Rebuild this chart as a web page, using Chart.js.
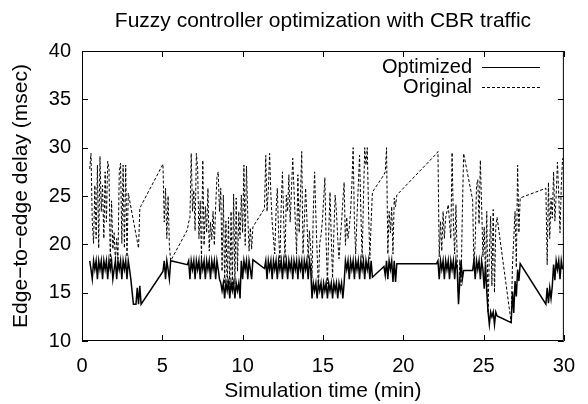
<!DOCTYPE html>
<html lang="en">
<head>
<meta charset="utf-8">
<title>Fuzzy controller optimization with CBR traffic</title>
<script src="https://cdn.jsdelivr.net/npm/chart.js@4.4.1/dist/chart.umd.min.js"></script>
<style>
body{margin:0;background:#fff;}
canvas{display:block;}
</style>
</head>
<body>
<canvas id="grafico" width="588" height="404"></canvas>
<script>

// ==============================
// DATOS
// ==============================

// tiempo de simulacion (min)
const tiempos = [
// tramo A
0.48,0.56,0.64,0.72,0.80,0.88,0.96,1.04,1.12,1.20,
1.28,1.36,1.44,1.52,1.60,1.68,1.76,1.84,1.92,2.00,
2.08,2.16,2.24,2.32,2.40,2.48,2.56,2.64,2.72,2.80,
2.88,2.96,3.04,3.12,3.20,3.28,3.36,3.44,3.52,3.60,
3.68,
// tramo B
5.04,5.12,5.20,5.28,5.36,5.44,5.52,
// tramo C
6.56,6.64,6.72,6.80,6.88,6.96,7.04,7.12,7.20,7.28,
7.36,7.44,7.52,7.60,7.68,7.76,7.84,7.92,8.00,8.08,
8.16,8.24,8.32,8.40,8.48,8.56,8.64,8.72,8.80,8.88,
8.96,9.04,9.12,9.20,9.28,9.36,9.44,9.52,9.60,9.68,
9.76,9.84,9.92,10.00,10.08,10.16,10.24,10.32,10.40,10.48,
10.56,10.64,
// tramo D
11.36,11.44,11.52,11.60,11.68,11.76,11.84,11.92,12.00,12.08,
12.16,12.24,12.32,12.40,12.48,12.56,12.64,12.72,12.80,12.88,
12.96,13.04,13.12,13.20,13.28,13.36,13.44,13.52,13.60,13.68,
13.76,13.84,13.92,14.00,14.08,14.16,14.24,14.32,14.40,14.48,
14.56,14.64,14.72,14.80,14.88,14.96,15.04,15.12,15.20,15.28,
15.36,15.44,15.52,15.60,15.68,15.76,15.84,15.92,16.00,16.08,
16.16,16.24,16.32,16.40,16.48,16.56,16.64,16.72,16.80,16.88,
16.96,17.04,17.12,17.20,17.28,17.36,17.44,17.52,17.60,17.68,
17.76,17.84,17.92,18.00,18.08,
// tramo E
18.80,18.88,18.96,19.04,19.12,19.20,19.28,19.36,19.44,19.52,19.60,
// tramo F
22.08,22.16,22.24,22.32,22.40,22.48,22.56,22.64,22.72,22.80,
22.88,22.96,23.04,23.12,23.20,23.28,23.36,23.44,23.52,23.60,
23.68,23.76,
// tramo G
24.32,24.40,24.48,24.56,24.64,24.72,24.80,24.88,24.96,25.04,
25.12,25.20,25.28,25.36,25.44,25.52,25.60,25.68,25.76,25.84,
// tramo H
26.72,26.80,26.88,26.96,27.04,27.12,27.20,27.28,
// tramo I
28.88,28.96,29.04,29.12,29.20,29.28,29.36,29.44,29.52,29.60,
29.68,29.76,29.84,29.92
];

// retardo Optimized (msec)
const optimizado = [
// A
18.3,17.4,16.4,18.3,17.4,18.3,16.4,18.3,17.4,18.3,
16.4,18.3,17.4,18.3,16.4,18.3,17.4,18.3,16.4,17.4,
18.3,16.4,18.3,17.4,18.3,16.4,18.3,17.4,18.3,16.4,
18.3,17.4,16.4,15.1,13.8,13.8,13.8,15.5,13.8,15.7,
13.8,
// B
17.2,18.3,16.4,18.3,17.4,16.4,18.3,
// C
17.9,18.3,16.4,18.3,17.4,18.3,16.4,18.3,17.4,18.3,
16.4,18.3,17.4,18.3,16.4,18.3,17.4,18.3,16.4,18.3,
17.4,18.3,16.4,18.3,17.4,16.4,16.0,15.2,16.0,14.4,
16.0,15.2,16.0,14.4,16.0,15.2,16.0,14.4,16.0,15.2,
16.0,14.4,18.3,16.4,18.3,17.4,18.3,16.4,18.3,17.4,
16.4,18.4,
// D
17.5,18.3,16.4,18.3,17.4,18.3,16.4,18.3,17.4,18.3,
16.4,18.3,17.4,18.3,16.4,18.3,17.4,18.3,16.4,18.3,
17.4,18.3,16.4,18.3,17.4,18.3,16.4,18.3,17.4,18.3,
16.4,18.3,17.4,18.3,16.4,18.3,17.4,14.4,16.0,15.2,
16.0,14.4,16.0,15.2,16.0,14.4,16.0,15.2,16.0,14.4,
16.0,15.2,16.0,14.4,16.0,15.2,16.0,14.4,16.0,15.2,
16.0,14.4,16.0,18.3,17.4,18.3,16.4,18.3,17.4,18.3,
16.4,18.3,17.4,18.3,16.4,18.3,17.4,18.3,16.4,18.3,
17.4,18.3,16.4,18.3,16.6,
// E
17.7,16.8,18.3,16.4,18.3,17.4,18.3,16.1,18.3,16.1,18.0,
// F
18.0,18.3,16.4,18.3,17.4,18.3,16.4,18.3,17.4,18.3,
16.4,18.3,17.4,18.3,16.4,18.3,17.4,13.8,16.2,18.3,
16.4,17.3,
// G
17.3,18.3,16.4,18.3,17.4,18.3,16.4,18.3,17.4,15.4,
17.9,15.1,13.0,11.7,13.0,12.5,13.0,11.7,13.0,12.6,
// H
11.9,15.1,12.9,16.2,14.6,17.4,16.2,18.0,
// I
13.8,15.5,13.9,15.5,14.4,15.7,17.9,16.3,18.3,17.4,
18.3,16.4,18.3,17.4
];

// retardo Original (msec), null = tramo recto
const original = [
// A
27.8,29.4,22.3,20.1,26.1,20.6,28.2,19.6,29.1,23.4,
26.1,20.6,27.5,22.3,28.6,27.8,18.1,24.5,19.5,21.2,
18.3,20.6,18.5,27.5,28.4,20.1,28.2,19.6,28.2,18.7,
25.3,null,null,null,null,null,null,null,19.6,23.7,
24.0,
// B
28.3,22.3,25.8,20.6,25.0,19.9,18.3,
// C
21.5,22.3,22.7,29.4,23.4,25.6,21.4,29.4,27.9,20.6,
24.5,18.4,28.7,19.9,23.9,21.2,25.8,19.3,22.3,20.5,
23.4,19.9,23.9,26.9,27.5,23.4,25.8,17.2,25.1,15.9,
22.4,15.4,22.8,15.2,23.4,15.7,25.2,15.9,24.8,17.2,
23.4,20.6,25.1,21.2,28.2,19.9,28.1,23.0,19.3,21.7,
19.5,21.8,
// D
23.7,29.2,23.4,25.6,29.4,25.1,22.3,20.6,19.0,23.4,
25.8,21.2,18.2,23.9,27.5,22.3,18.5,25.1,23.4,27.2,
22.3,25.6,28.9,25.6,22.3,19.0,27.2,21.2,25.0,29.6,
19.0,22.3,25.8,22.8,18.5,21.4,19.5,16.5,23.4,27.5,
23.0,19.0,15.4,20.1,20.9,22.3,24.5,26.9,20.1,15.9,
21.2,25.4,20.6,16.5,21.2,25.1,23.4,20.6,18.5,20.6,
22.3,24.5,26.4,19.9,22.8,20.6,21.7,23.4,26.1,30.0,
22.3,19.0,22.8,26.1,29.2,23.4,18.5,24.5,30.0,28.2,
30.0,23.4,18.5,22.3,25.4,
// E
27.2,27.5,30.0,19.0,23.4,21.2,23.9,19.0,24.8,23.9,25.1,
// F
29.4,29.6,18.7,22.4,19.3,23.4,20.6,22.8,23.4,24.1,
22.3,20.6,29.5,22.3,19.0,24.1,18.4,14.0,18.4,15.7,
23.4,29.4,
// G
24.6,17.7,20.2,26.0,26.7,22.1,28.7,23.9,18.7,21.8,
16.8,23.4,12.9,19.1,22.9,15.7,23.6,15.0,21.8,22.8,
// H
11.9,17.9,20.6,23.4,17.6,28.2,21.2,24.8,
// I
25.8,17.9,26.4,20.6,24.8,22.7,27.5,22.4,25.1,28.5,
25.1,21.2,26.1,28.9
];

const ticksX = [0, 5, 10, 15, 20, 25, 30];
const ticksY = [10, 15, 20, 25, 30, 35, 40];

const FUENTE = "'Liberation Sans', Arial, Helvetica, sans-serif";

// ==============================
// MARCO, TITULO Y LEYENDA
// ==============================

const marco = {

id: "marco",

afterDraw(chart){

const {ctx, chartArea: a, scales} = chart;

ctx.save();
ctx.strokeStyle = "#000";
ctx.fillStyle = "#000";
ctx.lineWidth = 1;

// caja y marcas hacia dentro
ctx.beginPath();
ctx.rect(a.left + 0.5, a.top + 0.5, a.right - a.left - 1, a.bottom - a.top - 1);

ticksX.forEach(v => {
const px = Math.round(scales.x.getPixelForValue(v)) + 0.5;
ctx.moveTo(px, a.bottom); ctx.lineTo(px, a.bottom - 6);
ctx.moveTo(px, a.top); ctx.lineTo(px, a.top + 6);
});

ticksY.forEach(v => {
const py = Math.round(scales.y.getPixelForValue(v)) + 0.5;
ctx.moveTo(a.left, py); ctx.lineTo(a.left + 6, py);
ctx.moveTo(a.right, py); ctx.lineTo(a.right - 6, py);
});

ctx.stroke();

// titulo
ctx.font = "21px " + FUENTE;
ctx.textAlign = "center";
ctx.textBaseline = "middle";
ctx.fillText("Fuzzy controller optimization with CBR traffic", (a.left + a.right) / 2, 21);

// leyenda
ctx.font = "20px " + FUENTE;
ctx.textAlign = "right";

chart.data.datasets.forEach((d, i) => {

const y = 67 + i * 20;

ctx.fillText(d.label, 472, y);

ctx.lineWidth = 1;
ctx.setLineDash(d.borderDash || []);
ctx.beginPath();
ctx.moveTo(482, y + 0.5);
ctx.lineTo(540, y + 0.5);
ctx.stroke();

});

ctx.restore();

}

};

// ==============================
// GRAFICO
// ==============================

const ctxGrafico = document.getElementById("grafico").getContext("2d");

let grafico = new Chart(ctxGrafico, {

type: "line",

data: {

datasets: [{
label: "Optimized",
data: tiempos.map((t, i) => ({x: t, y: optimizado[i]})),
borderColor: "#000",
borderWidth: 1.5,
pointRadius: 0,
spanGaps: true
},{
label: "Original",
data: tiempos.map((t, i) => ({x: t, y: original[i]})),
borderColor: "#000",
borderWidth: 1,
borderDash: [3, 2],
pointRadius: 0,
spanGaps: true
}]

},

options: {

responsive: false,
animation: false,

layout: { padding: { top: 51, right: 19, left: 0, bottom: 0 } },

plugins: {
legend: { display: false },
title: { display: false },
tooltip: { enabled: false }
},

scales: {

x: {
type: "linear",
min: 0,
max: 30,
afterBuildTicks: s => { s.ticks = ticksX.map(v => ({value: v})); },
afterFit: s => { s.height = 63; },
grid: { display: false, drawTicks: false },
border: { display: false },
ticks: { color: "#000", font: { size: 20, family: FUENTE }, padding: 13, maxRotation: 0, autoSkip: false },
title: { display: true, text: "Simulation time (min)", color: "#000", font: { size: 21, family: FUENTE }, padding: { top: 0, bottom: 0 } }
},

y: {
type: "linear",
min: 10,
max: 40,
afterBuildTicks: s => { s.ticks = ticksY.map(v => ({value: v})); },
afterFit: s => { s.width = 82; },
grid: { display: false, drawTicks: false },
border: { display: false },
ticks: { color: "#000", font: { size: 20, family: FUENTE }, padding: 11 },
title: { display: true, text: "Edge−to−edge delay (msec)", color: "#000", font: { size: 21, family: FUENTE }, padding: { top: 9, bottom: 0 } }
}

}

},

plugins: [marco]

});

</script>
</body>
</html>
